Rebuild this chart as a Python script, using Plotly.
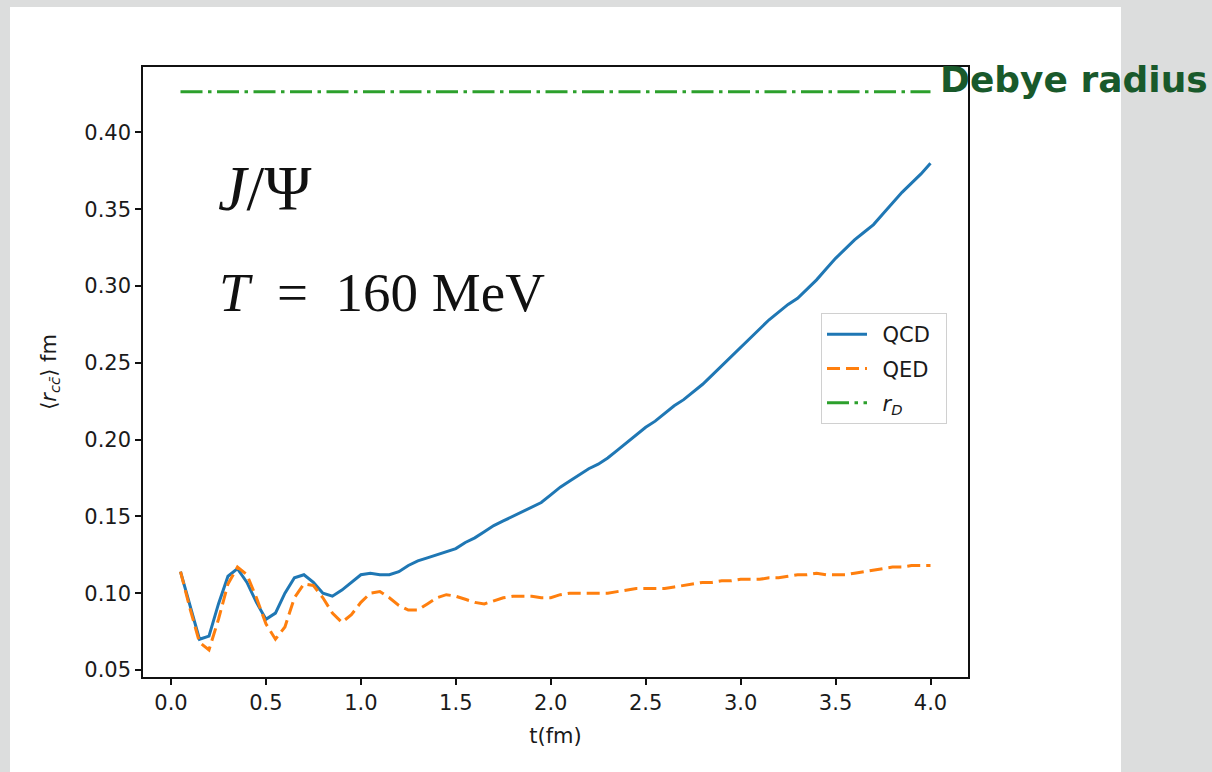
import plotly.graph_objects as go

# ---- data ----
t_fm = [0.05, 0.10, 0.15, 0.20, 0.25, 0.30, 0.35, 0.40, 0.45, 0.50,
        0.55, 0.60, 0.65, 0.70, 0.75, 0.80, 0.85, 0.90, 0.95, 1.00,
        1.05, 1.10, 1.15, 1.20, 1.25, 1.30, 1.35, 1.40, 1.45, 1.50,
        1.55, 1.60, 1.65, 1.70, 1.75, 1.80, 1.85, 1.90, 1.95, 2.00,
        2.05, 2.10, 2.15, 2.20, 2.25, 2.30, 2.35, 2.40, 2.45, 2.50,
        2.55, 2.60, 2.65, 2.70, 2.75, 2.80, 2.85, 2.90, 2.95, 3.00,
        3.05, 3.10, 3.15, 3.20, 3.25, 3.30, 3.35, 3.40, 3.45, 3.50,
        3.55, 3.60, 3.65, 3.70, 3.75, 3.80, 3.85, 3.90, 3.95, 4.00]

qcd = [0.114, 0.092, 0.070, 0.072, 0.093, 0.111, 0.116, 0.107, 0.094, 0.083,
       0.087, 0.100, 0.110, 0.112, 0.107, 0.100, 0.098, 0.102, 0.107, 0.112,
       0.113, 0.112, 0.112, 0.114, 0.118, 0.121, 0.123, 0.125, 0.127, 0.129,
       0.133, 0.136, 0.140, 0.144, 0.147, 0.150, 0.153, 0.156, 0.159, 0.164,
       0.169, 0.173, 0.177, 0.181, 0.184, 0.188, 0.193, 0.198, 0.203, 0.208,
       0.212, 0.217, 0.222, 0.226, 0.231, 0.236, 0.242, 0.248, 0.254, 0.260,
       0.266, 0.272, 0.278, 0.283, 0.288, 0.292, 0.298, 0.304, 0.311, 0.318,
       0.324, 0.330, 0.335, 0.340, 0.347, 0.354, 0.361, 0.367, 0.373, 0.380]

qed = [0.114, 0.090, 0.068, 0.063, 0.083, 0.106, 0.117, 0.112, 0.097, 0.080,
       0.070, 0.078, 0.097, 0.106, 0.105, 0.097, 0.087, 0.081, 0.086, 0.094,
       0.100, 0.101, 0.097, 0.092, 0.089, 0.089, 0.093, 0.097, 0.099, 0.098,
       0.096, 0.094, 0.093, 0.095, 0.097, 0.098, 0.098, 0.098, 0.097, 0.097,
       0.099, 0.100, 0.100, 0.100, 0.100, 0.100, 0.101, 0.102, 0.103, 0.103,
       0.103, 0.103, 0.104, 0.105, 0.106, 0.107, 0.107, 0.108, 0.108, 0.109,
       0.109, 0.109, 0.110, 0.110, 0.111, 0.112, 0.112, 0.113, 0.112, 0.112,
       0.112, 0.113, 0.114, 0.115, 0.116, 0.117, 0.117, 0.118, 0.118, 0.118]

r_debye = 0.4265
rd_t = [t_fm[0], t_fm[-1]]
rd_vals = [r_debye, r_debye]

x_ticks = [0.0, 0.5, 1.0, 1.5, 2.0, 2.5, 3.0, 3.5, 4.0]
y_ticks = [0.05, 0.10, 0.15, 0.20, 0.25, 0.30, 0.35, 0.40]

# ---- layout geometry (pixels) ----
W, H = 1212, 772
L, R, T, B = 143, 968, 67, 677
PW, PH = R - L, B - T


def px(x):
    return (x - L) / PW


def py(y):
    return (B - y) / PH


FONT = "DejaVu Sans"
TXT = "#1a1a1a"
SP = "\u2002"

fig = go.Figure()
fig.add_trace(go.Scatter(x=t_fm, y=qcd, mode="lines", name=SP + "QCD" + SP, legendgroup="a",
                         line=dict(color="#1f77b4", width=3)))
fig.add_trace(go.Scatter(x=t_fm, y=qed, mode="lines", name=SP + "QED", legendgroup="b",
                         line=dict(color="#ff7f0e", width=3, dash="13px,6px")))
fig.add_trace(go.Scatter(x=rd_t, y=rd_vals, mode="lines", name=SP + "<i>r<sub>D</sub></i>",
                         legendgroup="c",
                         line=dict(color="#2ca02c", width=3, dash="22px,5.5px,3.5px,5.5px")))

axis_common = dict(showline=True, linecolor="#111111", linewidth=1.5, mirror=True,
                   ticks="outside", ticklen=6, tickwidth=1.5, tickcolor="#111111",
                   showgrid=False, zeroline=False,
                   tickfont=dict(family=FONT, size=21, color=TXT))

fig.update_xaxes(range=[-0.1475, 4.1975], tickvals=x_ticks,
                 ticktext=[f"{v:.1f}" for v in x_ticks],
                 title=dict(text="t(fm)", font=dict(family=FONT, size=21, color=TXT), standoff=14),
                 **axis_common)
fig.update_yaxes(range=[0.0454, 0.4426], tickvals=y_ticks,
                 ticktext=[f"{v:.2f}" for v in y_ticks],
                 title=dict(text="⟨<i>r</i><sub><i>cc̄</i></sub>⟩ fm",
                            font=dict(family=FONT, size=21, color=TXT), standoff=22),
                 **axis_common)

fig.update_layout(
    width=W, height=H,
    margin=dict(l=L, r=W - R, t=T, b=H - B, pad=0),
    paper_bgcolor="#dcdddd",
    plot_bgcolor="white",
    showlegend=True,
    legend=dict(x=px(821), y=py(313), xanchor="left", yanchor="top",
                bgcolor="white", bordercolor="#d0d0d0", borderwidth=1,
                font=dict(family=FONT, size=21, color=TXT),
                tracegroupgap=4, itemwidth=40),
    shapes=[dict(type="rect", xref="paper", yref="paper",
                 x0=px(10), x1=px(1121), y0=py(7), y1=py(790),
                 fillcolor="white", line=dict(width=0), layer="below")],
    annotations=[
        dict(text="<i>J</i>/Ψ", xref="paper", yref="paper", x=px(216), y=py(188),
             xanchor="left", yanchor="middle", showarrow=False,
             font=dict(family="Liberation Serif", size=64, color="#111111")),
        dict(text="<i>T</i>" + SP + "=" + SP + "160 MeV", xref="paper", yref="paper",
             x=px(217), y=py(292),
             xanchor="left", yanchor="middle", showarrow=False,
             font=dict(family="Liberation Serif", size=55, color="#111111")),
        dict(text="<b>Debye radius</b>", xref="paper", yref="paper", x=px(938), y=py(80),
             xanchor="left", yanchor="middle", showarrow=False,
             font=dict(family="DejaVu Sans", size=36, color="#19592b")),
    ],
)

fig.write_html("out.html")
